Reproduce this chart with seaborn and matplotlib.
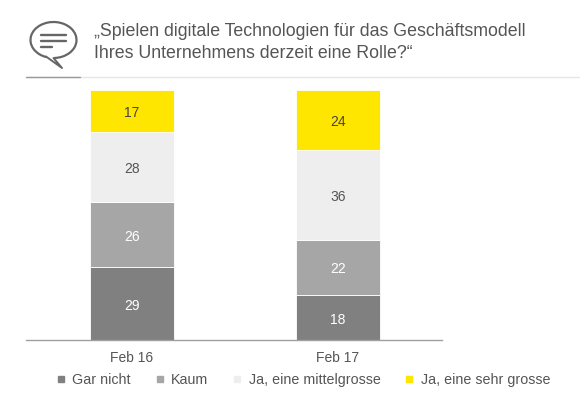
import pandas as pd
import seaborn as sns
import matplotlib.pyplot as plt
from matplotlib.patches import Arc
from matplotlib.lines import Line2D

periods = ['Feb 16', 'Feb 17']
gar_nicht = [29, 18]
kaum = [26, 22]
mittel = [28, 36]
sehr = [17, 24]

names = ['Gar nicht', 'Kaum', 'Ja, eine mittelgrosse', 'Ja, eine sehr grosse']
series = [gar_nicht, kaum, mittel, sehr]
colors = ['#808080', '#a6a6a6', '#eeeeee', '#ffe600']
label_colors = ['white', 'white', '#555555', '#444444']

W, H = 580, 395

sns.set_style('white')
plt.rcParams['font.family'] = ['Liberation Sans', 'DejaVu Sans']

fig = plt.figure(figsize=(W / 100, H / 100), dpi=100)
ax = fig.add_axes([26 / W, 1 - 340 / H, (442 - 26) / W, 250.5 / H])

#stacked bars, one layer per answer
df = pd.DataFrame({'period': periods})
bottom = [0, 0]
for name, vals, col, lc in zip(names, series, colors, label_colors):
    df['val'] = vals
    sns.barplot(data=df, x='period', y='val', bottom=bottom, color=col, width=0.408,
                edgecolor='white', linewidth=0.6, saturation=1, ax=ax, legend=False)
    for i, v in enumerate(vals):
        ax.annotate(str(v), (i, bottom[i] + v / 2), xytext=(0, -1.5), textcoords='offset points',
                    ha='center', va='center', fontsize=10, color=lc)
    bottom = [b + v for b, v in zip(bottom, vals)]

ax.set_xlim(-0.515, 1.505)
ax.set_ylim(0, 100)
ax.set_xlabel('')
ax.set_ylabel('')
ax.set_yticks([])
ax.tick_params(axis='x', length=0, labelsize=10, labelcolor='#555555', pad=8)
sns.despine(ax=ax, left=True)
ax.spines['bottom'].set_color('#a0a0a0')
ax.spines['bottom'].set_linewidth(1)

handles = [Line2D([], [], marker='s', linestyle='', markersize=5, color=c) for c in colors]
fig.legend(handles, names, loc='center left', bbox_to_anchor=(55 / W, 1 - 380 / H), ncol=4, frameon=False,
           fontsize=10.3, labelcolor='#555555', handlelength=0.8, handletextpad=0.4, columnspacing=1.62,
           borderpad=0, borderaxespad=0)

#question header
fig.text(94 / W, 1 - 32 / H, '„Spielen digitale Technologien für das Geschäftsmodell', fontsize=12.75,
         color='#555555', va='center')
fig.text(94 / W, 1 - 54 / H, 'Ihres Unternehmens derzeit eine Rolle?“', fontsize=12.75,
         color='#555555', va='center')

#rule below the header
fig.add_artist(Line2D([26 / W, 1], [1 - 77 / H, 1 - 77 / H], color='#e6e6e6', lw=1))
fig.add_artist(Line2D([26 / W, 80 / W], [1 - 77 / H, 1 - 77 / H], color='#999999', lw=1))

#speech bubble icon, drawn in pixel coords of the figure
icon = fig.add_axes([0, 0, 1, 1], facecolor='none')
icon.set_xlim(0, W)
icon.set_ylim(H, 0)
icon.axis('off')
icon.add_patch(Arc((53.5, 40), 46, 36, theta1=112, theta2=448, ec='#666666', lw=1.6))
icon.plot([46, 62, 53.5], [56.5, 68, 58], color='#666666', lw=1.4)
icon.plot([41, 66], [35, 35], color='#666666', lw=1.7)
icon.plot([41, 66], [41, 41], color='#666666', lw=1.7)
icon.plot([41, 52], [47, 47], color='#666666', lw=1.7)

plt.savefig('out.png', dpi=100)
